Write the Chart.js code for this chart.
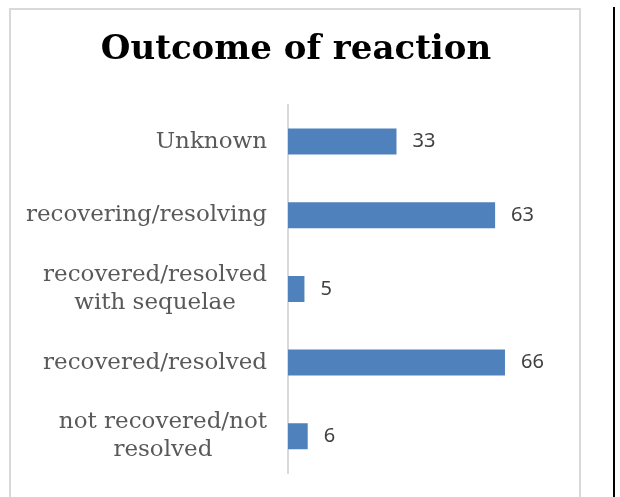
<!DOCTYPE html>
<html>
<head>
<meta charset="utf-8">
<script src="https://cdn.jsdelivr.net/npm/chart.js@4.4.1/dist/chart.umd.min.js"></script>
<style>
  html, body { margin: 0; padding: 0; background: #fff; }
  #wrap { position: relative; width: 620px; height: 497px; overflow: hidden; }
  #frame { position: absolute; left: 9px; top: 8px; width: 568px; height: 520px;
           border: 2px solid #d9d9d9; border-bottom: none; }
  #rule { position: absolute; left: 613px; top: 7px; width: 2px; height: 500px; background: #000; }
  canvas { position: absolute; left: 0; top: 0; }
</style>
</head>
<body>
<div id="wrap">
  <div id="frame"></div>
  <div id="rule"></div>
  <canvas id="myChart" width="620" height="497"></canvas>
</div>
<script>
// chart data
const chartTitle = "Outcome of reaction";
const outcomes = [
  "Unknown",
  "recovering/resolving",
  ["recovered/resolved", "with sequelae"],
  "recovered/resolved",
  ["not recovered/not", "resolved"]
];
const counts = [33, 63, 5, 66, 6];
const xMax = 80;

// draws the category names: block right aligned, lines centred in the block
const categoryLabels = {
  id: "categoryLabels",
  afterDraw(chart) {
    const ctx = chart.ctx;
    const yScale = chart.scales.y;
    ctx.save();
    ctx.font = "23px 'DejaVu Serif'";
    ctx.fillStyle = "#595959";
    ctx.textAlign = "center";
    ctx.textBaseline = "middle";
    const lineH = 28;
    chart.data.labels.forEach((lab, i) => {
      const lines = Array.isArray(lab) ? lab : [lab];
      let maxW = 0;
      lines.forEach(l => { maxW = Math.max(maxW, ctx.measureText(l).width); });
      const cx = 267 - maxW / 2;
      const cy = yScale.getPixelForValue(i);
      const y0 = cy - (lines.length - 1) * lineH / 2;
      lines.forEach((l, k) => ctx.fillText(l, cx, y0 + k * lineH));
    });
    ctx.restore();
  }
};

// draws the value next to each bar
const valueLabels = {
  id: "valueLabels",
  afterDatasetsDraw(chart) {
    const ctx = chart.ctx;
    const meta = chart.getDatasetMeta(0);
    ctx.save();
    ctx.font = "20px 'Noto Sans'";
    ctx.fillStyle = "#404040";
    ctx.textAlign = "left";
    ctx.textBaseline = "middle";
    meta.data.forEach((bar, i) => {
      ctx.fillText(String(chart.data.datasets[0].data[i]), bar.x + 16, bar.y);
    });
    ctx.restore();
  }
};

const data = {
  labels: outcomes,
  datasets: [{
    data: counts,
    backgroundColor: "#4f81bd",
    borderWidth: 0,
    categoryPercentage: 1,
    barPercentage: 0.353
  }]
};

const config = {
  type: "bar",
  data: data,
  options: {
    indexAxis: "y",
    responsive: false,
    animation: false,
    layout: { padding: { top: 0, left: 41, right: 69, bottom: 24 } },
    plugins: {
      legend: { display: false },
      tooltip: { enabled: false },
      title: {
        display: true,
        text: chartTitle,
        color: "#000",
        font: { family: "'DejaVu Serif'", size: 34, weight: "bold", lineHeight: 1.2 },
        padding: { top: 30, bottom: 34 }
      }
    },
    scales: {
      x: { display: false, min: 0, max: xMax },
      y: {
        display: true,
        grid: { display: false },
        border: { display: true, color: "#d9d9d9", width: 2 },
        ticks: { display: false },
        afterFit(scale) { scale.width = 247; }
      }
    }
  },
  plugins: [categoryLabels, valueLabels]
};

const myChart = new Chart(document.getElementById("myChart"), config);
</script>
</body>
</html>
